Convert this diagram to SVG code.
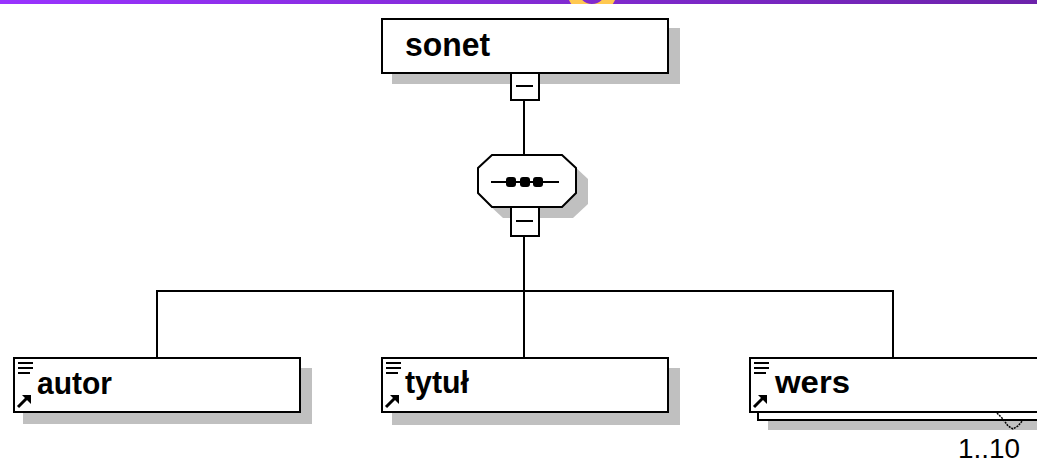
<svg xmlns="http://www.w3.org/2000/svg" width="1037" height="462" viewBox="0 0 1037 462">
<defs>
<linearGradient id="bar" x1="0" y1="0" x2="1" y2="0">
<stop offset="0" stop-color="#9933ff"/>
<stop offset="1" stop-color="#6c22aa"/>
</linearGradient>
<clipPath id="barclip"><rect x="0" y="0" width="1037" height="4"/></clipPath>
<g id="linkicon">
<line x1="0" y1="12" x2="9" y2="3" stroke="#000" stroke-width="3"/>
<polygon points="13,0 13,9 4,0" fill="#000"/>
</g>
</defs>
<style>
.box{fill:#fff;stroke:#000;stroke-width:2}
.shadow{fill:#c0c0c0}
.lbl{font-family:"Liberation Sans",Arial,sans-serif;font-weight:bold;font-size:32px;fill:#000}
.mult{font-family:"Liberation Sans",Arial,sans-serif;font-size:27px;fill:#000}
.line{stroke:#000;stroke-width:2;fill:none}
.ico{stroke:#000;stroke-width:2}
</style>
<g id="topbar">
<rect x="0" y="0" width="1037" height="4" fill="url(#bar)"/>
<g clip-path="url(#barclip)"><circle cx="592" cy="-10" r="19.5" fill="none" stroke="#ffc850" stroke-width="11"/></g>
</g>
<g id="connectors">
<line class="line" x1="524" y1="100" x2="524" y2="154"/>
<line class="line" x1="524" y1="236" x2="524" y2="357"/>
<polyline class="line" points="157,357 157,291 893,291 893,357"/>
</g>
<g id="sonet">
<rect class="shadow" x="392" y="28" width="288" height="56"/>
<rect class="box" x="382" y="19" width="286" height="54"/>
<text class="lbl" x="405" y="56" style="font-size:34px" textLength="85" lengthAdjust="spacingAndGlyphs">sonet</text>
<rect class="box" x="511" y="73" width="28" height="27"/>
<line class="line" x1="516" y1="86" x2="533" y2="86"/>
</g>
<g id="sequence">
<polygon class="shadow" points="503,165 573,165 588,179 588,204 573,218 503,218 488,204 488,179"/>
<polygon class="box" points="492,155 562,155 576,168 576,193 562,207 492,207 478,193 478,168"/>
<line class="line" x1="491" y1="182" x2="559" y2="182"/>
<rect x="506" y="177" width="10" height="10" rx="3" fill="#000"/>
<rect x="520" y="177" width="10" height="10" rx="3" fill="#000"/>
<rect x="533" y="177" width="10" height="10" rx="3" fill="#000"/>
<rect class="box" x="511" y="207" width="28" height="29"/>
<line class="line" x1="516" y1="221" x2="533" y2="221"/>
</g>
<g id="autor">
<rect class="shadow" x="23" y="368" width="289" height="56"/>
<rect class="box" x="14" y="358" width="286" height="54"/>
<line class="ico" x1="18" y1="363" x2="33" y2="363"/>
<line class="ico" x1="18" y1="368" x2="33" y2="368"/>
<line class="ico" x1="18" y1="373" x2="30" y2="373"/>
<use href="#linkicon" x="18" y="395"/>
<text class="lbl" x="37" y="394" textLength="75" lengthAdjust="spacingAndGlyphs">autor</text>
</g>
<g id="tytul">
<rect class="shadow" x="392" y="368" width="288" height="57"/>
<rect class="box" x="382" y="358" width="286" height="54"/>
<line class="ico" x1="386" y1="363" x2="401" y2="363"/>
<line class="ico" x1="386" y1="368" x2="401" y2="368"/>
<line class="ico" x1="386" y1="373" x2="398" y2="373"/>
<use href="#linkicon" x="386" y="395"/>
<text class="lbl" x="405" y="393" textLength="64" lengthAdjust="spacingAndGlyphs">tytuł</text>
</g>
<g id="wers">
<rect class="shadow" x="768" y="420" width="269" height="10"/>
<rect class="box" x="758" y="366" width="290" height="54"/>
<rect class="box" x="750" y="358" width="296" height="54"/>
<polyline points="997,413 1003,419 1008,426 1013,429 1018,426 1023,420" fill="none" stroke="#000" stroke-width="1.5" stroke-dasharray="2,1"/>
<line class="ico" x1="754" y1="363" x2="769" y2="363"/>
<line class="ico" x1="754" y1="368" x2="769" y2="368"/>
<line class="ico" x1="754" y1="373" x2="766" y2="373"/>
<use href="#linkicon" x="754" y="395"/>
<text class="lbl" x="775" y="393" textLength="75" lengthAdjust="spacingAndGlyphs">wers</text>
<text class="mult" x="958" y="458" textLength="62" lengthAdjust="spacingAndGlyphs">1..10</text>
</g>
</svg>
